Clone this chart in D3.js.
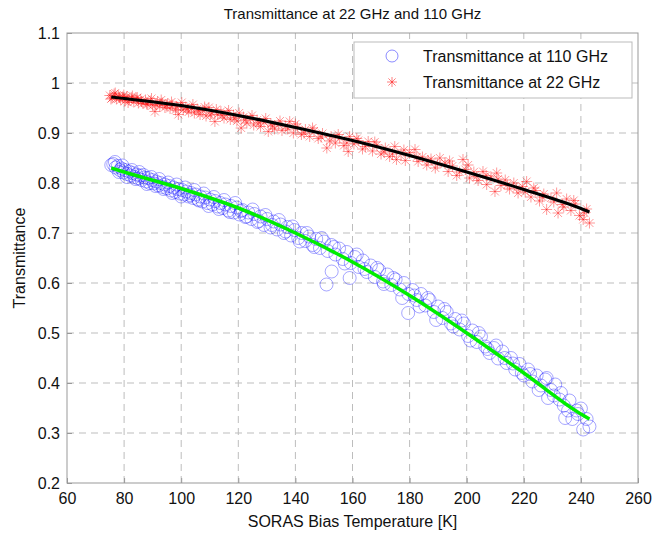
<!DOCTYPE html>
<html lang="en">
<head>
    <meta charset="UTF-8">
    <title>Transmittance at 22 GHz and 110 GHz</title>
    <script src="https://d3js.org/d3.v7.min.js"></script>
    <style>
        body {
            margin: 0;
            background-color: #fff;
            font-family: "Liberation Sans", Arial, sans-serif;
        }
        .grid line {
            stroke: #bdbdbd;
            stroke-dasharray: 7,5;
        }
        .tick-label {
            font-size: 16px;
            fill: #111;
        }
    </style>
</head>
<body>
    <svg id="chart" width="654" height="534"></svg>
    <script>
        // 110 GHz measurements: temperature [K] and transmittance
        const temp110 = [
            75.5, 76.2, 77.0, 77.8, 78.5, 79.1, 79.8, 80.4, 81.0, 81.7, 82.3, 83.0, 83.6, 84.3, 85.0, 85.6,
            86.2, 87.0, 87.7, 88.3, 89.0, 89.8, 90.5, 91.2, 92.0, 92.7, 93.5, 94.2, 95.0, 95.8, 96.5, 97.3,
            98.0, 98.8, 99.5, 100.3, 101.0, 101.8, 102.6, 103.4, 104.2, 105.0, 105.9, 106.7, 107.5, 108.4,
            109.2, 110.1, 111.0, 111.9, 112.8, 113.7, 114.6, 115.5, 116.5, 117.4, 118.4, 119.4, 120.4, 121.4,
            122.5, 123.5, 124.6, 125.6, 126.7, 127.8, 129.0, 130.1, 131.3, 132.4, 133.6, 134.8, 136.0, 137.2,
            138.5, 139.7, 141.0, 142.2, 143.5, 144.8, 146.0, 147.3, 148.6, 150.0, 150.9, 151.3, 152.6, 152.7,
            154.0, 155.3, 156.6, 158.0, 159.0, 159.4, 160.8, 162.2, 163.6, 165.0, 166.4, 167.8, 169.3, 170.7,
            172.2, 173.6, 175.1, 176.6, 178.0, 179.5, 179.6, 181.0, 182.5, 184.0, 185.5, 187.0, 188.5, 190.0,
            191.5, 193.0, 194.5, 196.0, 197.5, 199.0, 200.5, 202.0, 203.5, 205.0, 206.5, 208.0, 209.5, 211.0,
            212.5, 214.0, 215.5, 217.0, 218.5, 220.0, 221.5, 223.0, 224.5, 226.0, 227.5, 228.5, 229.5, 231.0,
            232.5, 234.0, 234.5, 236.0, 237.0, 238.5, 240.0, 240.8, 242.0, 243.0,
            76.8, 78.2, 79.4, 80.9, 82.7, 84.0, 85.3, 86.8, 88.0, 89.5, 91.0, 92.3, 93.8, 95.4, 96.9, 98.4,
            100.0, 101.4, 103.0, 104.6, 106.2, 107.9, 109.6, 111.4, 113.2, 115.0, 117.0, 118.9, 120.9, 122.9,
            125.0, 127.2, 129.5, 131.8, 134.2, 136.6, 139.0, 141.5, 144.0, 146.6, 149.2, 153.5, 157.3, 161.5,
            164.2, 168.6, 171.0, 174.3, 177.4, 181.7, 183.5, 186.4, 189.3, 192.2, 195.3, 198.3, 201.3, 204.2,
            207.3, 210.3, 213.3, 216.2, 219.3, 222.2, 225.2, 228.0, 230.5, 233.0, 235.5, 239.0
        ];
        const trans110 = [
            0.836, 0.838, 0.831, 0.834, 0.826, 0.829, 0.821, 0.826, 0.818, 0.823, 0.815, 0.820, 0.812, 0.817, 0.809, 0.815,
            0.806, 0.811, 0.803, 0.810, 0.800, 0.806, 0.799, 0.803, 0.795, 0.800, 0.792, 0.797, 0.789, 0.794, 0.785, 0.791,
            0.782, 0.788, 0.779, 0.786, 0.777, 0.783, 0.773, 0.780, 0.770, 0.777, 0.767, 0.773, 0.763, 0.771,
            0.760, 0.767, 0.757, 0.764, 0.753, 0.760, 0.750, 0.757, 0.745, 0.754, 0.741, 0.751, 0.737, 0.746,
            0.732, 0.741, 0.728, 0.738, 0.722, 0.733, 0.716, 0.728, 0.711, 0.723, 0.707, 0.717, 0.700, 0.712,
            0.695, 0.706, 0.690, 0.700, 0.684, 0.693, 0.676, 0.688, 0.670, 0.683, 0.597, 0.664, 0.676, 0.623,
            0.657, 0.669, 0.648, 0.662, 0.610, 0.640, 0.652, 0.632, 0.645, 0.622, 0.635, 0.612, 0.626, 0.603,
            0.617, 0.596, 0.607, 0.587, 0.600, 0.540, 0.578, 0.586, 0.566, 0.578, 0.555, 0.566, 0.542, 0.553,
            0.530, 0.542, 0.519, 0.528, 0.507, 0.519, 0.494, 0.505, 0.482, 0.493, 0.473, 0.460, 0.470, 0.449,
            0.463, 0.440, 0.450, 0.427, 0.438, 0.415, 0.427, 0.403, 0.415, 0.395, 0.407, 0.370, 0.386, 0.397,
            0.367, 0.355, 0.330, 0.365, 0.328, 0.345, 0.349, 0.307, 0.328, 0.313,
            0.842, 0.822, 0.835, 0.812, 0.826, 0.808, 0.822, 0.816, 0.798, 0.812, 0.794, 0.808, 0.788, 0.801, 0.780, 0.797,
            0.773, 0.791, 0.776, 0.786, 0.765, 0.779, 0.754, 0.772, 0.748, 0.766, 0.742, 0.760, 0.744, 0.733,
            0.747, 0.724, 0.736, 0.716, 0.726, 0.703, 0.713, 0.683, 0.700, 0.672, 0.690, 0.672, 0.639, 0.657,
            0.628, 0.630, 0.598, 0.610, 0.570, 0.575, 0.553, 0.570, 0.526, 0.548, 0.513, 0.525, 0.485, 0.500,
            0.468, 0.475, 0.450, 0.439, 0.420, 0.418, 0.386, 0.410, 0.375, 0.380, 0.345, 0.338
        ];

        // 22 GHz measurements
        const temp22 = [
            75.0, 75.8, 76.5, 77.3, 78.0, 78.8, 79.5, 80.3, 81.0, 81.8, 82.6, 83.4, 84.2, 85.0, 85.8, 86.6,
            87.5, 88.3, 89.2, 90.0, 90.8, 91.7, 92.5, 93.4, 94.3, 95.2, 96.1, 97.0, 98.0, 99.0, 99.8, 100.7,
            101.6, 102.6, 103.6, 104.6, 105.6, 106.6, 107.6, 108.7, 109.7, 110.7, 111.8, 112.8, 113.9, 115.0,
            116.1, 117.2, 118.3, 119.5, 121.0, 121.8, 123.0, 124.2, 125.4, 126.6, 127.8, 129.0, 130.5, 131.4,
            132.7, 134.0, 135.3, 136.6, 138.0, 139.3, 140.7, 142.1, 143.5, 145.0, 146.5, 148.0, 149.5, 151.0,
            152.5, 154.0, 155.5, 157.0, 158.5, 159.0, 160.5, 162.0, 163.5, 165.5, 167.0, 168.5, 170.0, 171.5,
            173.0, 174.8, 175.4, 177.0, 178.5, 180.0, 181.9, 183.0, 184.5, 186.0, 187.5, 189.0, 190.6, 192.4,
            193.5, 195.0, 196.5, 198.7, 199.5, 201.0, 202.5, 204.0, 205.7, 207.0, 208.5, 209.9, 210.5, 212.0,
            213.5, 215.0, 216.5, 218.0, 219.5, 221.0, 222.5, 224.0, 225.5, 227.0, 228.0, 229.5, 231.5, 232.0,
            233.5, 235.0, 236.5, 238.0, 239.5, 240.8, 242.0, 243.0,
            75.4, 76.9, 78.4, 79.9, 81.4, 82.9, 84.6, 86.1, 87.9, 89.6, 91.2, 93.0, 94.8, 96.6, 98.5, 100.2,
            102.1, 104.1, 106.1, 108.2, 110.2, 112.3, 114.4, 116.6, 118.8, 120.3, 122.4, 124.8, 127.2, 129.6,
            132.0, 134.6, 137.3, 140.0, 143.0, 146.0, 149.0, 152.0, 155.0, 158.0, 161.5, 164.5, 167.8, 171.0,
            174.0, 178.0, 182.5, 186.5, 189.8, 194.0, 197.5, 200.5, 203.5, 206.8, 211.0, 214.2, 217.5, 220.5,
            223.5, 226.5, 230.5, 234.0, 237.5, 241.2
        ];
        const trans22 = [
            0.975, 0.970, 0.978, 0.968, 0.974, 0.966, 0.972, 0.964, 0.973, 0.966, 0.970, 0.962, 0.969, 0.960, 0.967, 0.959,
            0.966, 0.957, 0.964, 0.955, 0.943, 0.962, 0.954, 0.960, 0.951, 0.958, 0.949, 0.956, 0.946, 0.937, 0.954, 0.946,
            0.952, 0.942, 0.949, 0.940, 0.948, 0.937, 0.945, 0.934, 0.951, 0.940, 0.923, 0.937, 0.943, 0.930,
            0.939, 0.927, 0.936, 0.924, 0.910, 0.932, 0.920, 0.929, 0.916, 0.926, 0.913, 0.922, 0.903, 0.918,
            0.908, 0.917, 0.905, 0.914, 0.923, 0.900, 0.912, 0.897, 0.907, 0.893, 0.904, 0.889, 0.899, 0.870,
            0.893, 0.880, 0.890, 0.875, 0.863, 0.893, 0.878, 0.885, 0.868, 0.883, 0.864, 0.876, 0.858, 0.870,
            0.853, 0.873, 0.847, 0.859, 0.845, 0.861, 0.867, 0.843, 0.852, 0.836, 0.848, 0.830, 0.850, 0.840,
            0.823, 0.834, 0.815, 0.847, 0.827, 0.810, 0.822, 0.805, 0.823, 0.797, 0.812, 0.783, 0.820, 0.795,
            0.806, 0.788, 0.800, 0.780, 0.793, 0.803, 0.772, 0.785, 0.764, 0.778, 0.747, 0.770, 0.780, 0.740,
            0.757, 0.768, 0.745, 0.758, 0.735, 0.727, 0.748, 0.720,
            0.968, 0.980, 0.971, 0.976, 0.961, 0.974, 0.971, 0.963, 0.958, 0.969, 0.957, 0.966, 0.955, 0.962, 0.952, 0.961,
            0.948, 0.957, 0.944, 0.952, 0.936, 0.947, 0.935, 0.945, 0.930, 0.940, 0.926, 0.935, 0.920, 0.929,
            0.914, 0.924, 0.908, 0.918, 0.900, 0.910, 0.892, 0.884, 0.897, 0.880, 0.889, 0.873, 0.882, 0.862,
            0.858, 0.866, 0.852, 0.845, 0.838, 0.844, 0.822, 0.836, 0.813, 0.815, 0.808, 0.796, 0.790, 0.782,
            0.790, 0.772, 0.762, 0.752, 0.765, 0.740
        ];

        // fitted curves
        const fitTemp = [75.5, 80, 100, 120, 140, 160, 180, 200, 220, 240, 243];
        const fit110 = [0.830, 0.822, 0.789, 0.750, 0.700, 0.642, 0.575, 0.500, 0.420, 0.338, 0.328];
        const fit22 = [0.972, 0.969, 0.955, 0.935, 0.911, 0.885, 0.855, 0.822, 0.787, 0.749, 0.742];

        const xTicks = [60, 80, 100, 120, 140, 160, 180, 200, 220, 240, 260];
        const yTicks = [0.2, 0.3, 0.4, 0.5, 0.6, 0.7, 0.8, 0.9, 1, 1.1];

        const margin = { top: 33, right: 16, bottom: 51, left: 67 };
        const width = 654, height = 534;

        const svg = d3.select("#chart");

        const x = d3.scaleLinear().domain([60, 260]).range([margin.left, width - margin.right]);
        const y = d3.scaleLinear().domain([0.2, 1.1]).range([height - margin.bottom, margin.top]);

        // grid
        const grid = svg.append("g").attr("class", "grid");
        grid.selectAll(".gx").data(xTicks.slice(1, -1)).enter().append("line")
            .attr("x1", d => x(d)).attr("x2", d => x(d))
            .attr("y1", y(0.2)).attr("y2", y(1.1));
        grid.selectAll(".gy").data(yTicks.slice(1, -1)).enter().append("line")
            .attr("x1", x(60)).attr("x2", x(260))
            .attr("y1", d => y(d)).attr("y2", d => y(d));

        // axes with inward ticks
        const xAxis = svg.append("g")
            .attr("transform", `translate(0,${y(0.2)})`)
            .call(d3.axisBottom(x).tickValues(xTicks).tickSizeInner(-5).tickSizeOuter(0).tickPadding(10).tickFormat(d3.format("d")));
        const yAxis = svg.append("g")
            .attr("transform", `translate(${x(60)},0)`)
            .call(d3.axisLeft(y).tickValues(yTicks).tickSizeInner(-5).tickSizeOuter(0).tickPadding(7).tickFormat(d => d3.format("")(+d.toFixed(1))));
        [xAxis, yAxis].forEach(a => {
            a.select(".domain").remove();
            a.selectAll("line").attr("stroke", "#999");
            a.selectAll("text").attr("class", "tick-label").attr("font-family", "Liberation Sans, Arial, sans-serif");
        });

        // box
        svg.append("rect")
            .attr("x", x(60)).attr("y", y(1.1))
            .attr("width", x(260) - x(60)).attr("height", y(0.2) - y(1.1))
            .attr("fill", "none").attr("stroke", "#999");

        const starPath = s => {
            const d = s * 0.72;
            return `M${-s},0H${s}M0,${-s}V${s}M${-d},${-d}L${d},${d}M${-d},${d}L${d},${-d}`;
        };

        // 22 GHz stars
        svg.append("g").selectAll("path")
            .data(d3.zip(temp22, trans22)).enter().append("path")
            .attr("transform", d => `translate(${x(d[0])},${y(d[1])})`)
            .attr("d", starPath(5.5))
            .attr("stroke", "#ff0000").attr("stroke-opacity", 0.4)
            .attr("stroke-width", 1).attr("fill", "none");

        // 110 GHz circles
        svg.append("g").selectAll("circle")
            .data(d3.zip(temp110, trans110)).enter().append("circle")
            .attr("cx", d => x(d[0])).attr("cy", d => y(d[1])).attr("r", 6.5)
            .attr("fill", "none").attr("stroke", "#0000ff")
            .attr("stroke-opacity", 0.35).attr("stroke-width", 1);

        // fits
        const line = d3.line().x(d => x(d[0])).y(d => y(d[1])).curve(d3.curveMonotoneX);
        svg.append("path").datum(d3.zip(fitTemp, fit22)).attr("d", line)
            .attr("fill", "none").attr("stroke", "#000").attr("stroke-width", 3);
        svg.append("path").datum(d3.zip(fitTemp, fit110)).attr("d", line)
            .attr("fill", "none").attr("stroke", "#00ee00").attr("stroke-width", 3.5);

        // legend
        const lg = svg.append("g");
        lg.append("rect").attr("x", 354).attr("y", 42).attr("width", 278).attr("height", 56)
            .attr("fill", "#fff").attr("stroke", "#bbb");
        lg.append("circle").attr("cx", 392).attr("cy", 56).attr("r", 6)
            .attr("fill", "none").attr("stroke", "#0000ff").attr("stroke-opacity", 0.45);
        lg.append("path").attr("transform", "translate(392,82)").attr("d", starPath(5))
            .attr("stroke", "#ff0000").attr("stroke-opacity", 0.5).attr("fill", "none");
        lg.append("text").attr("x", 423).attr("y", 62).attr("font-size", 16).attr("fill", "#111")
            .text("Transmittance at 110 GHz");
        lg.append("text").attr("x", 423).attr("y", 88).attr("font-size", 16).attr("fill", "#111")
            .text("Transmittance at 22 GHz");

        // titles
        svg.append("text").attr("x", (x(60) + x(260)) / 2).attr("y", 19)
            .attr("text-anchor", "middle").attr("font-size", 15).attr("fill", "#111")
            .text("Transmittance at 22 GHz and 110 GHz");
        svg.append("text").attr("x", (x(60) + x(260)) / 2).attr("y", 527)
            .attr("text-anchor", "middle").attr("font-size", 16).attr("fill", "#111")
            .text("SORAS Bias Temperature [K]");
        svg.append("text")
            .attr("transform", `translate(25,${(y(0.2) + y(1.1)) / 2}) rotate(-90)`)
            .attr("text-anchor", "middle").attr("font-size", 16).attr("fill", "#111")
            .text("Transmittance");
    </script>
</body>
</html>
